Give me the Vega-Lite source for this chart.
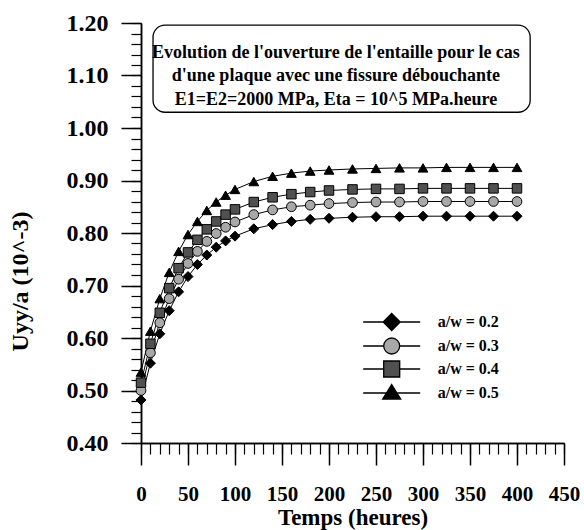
{
  "$schema": "https://vega.github.io/schema/vega-lite/v6.json",
  "width": 423,
  "height": 420,
  "autosize": {"type": "none"},
  "padding": {"left": 141, "top": 23, "right": 20, "bottom": 87},
  "background": "white",
  "config": {
    "font": "Liberation Serif",
    "view": {"stroke": null},
    "style": {"guide-label": {"font": "Liberation Serif", "fontWeight": "bold", "fill": "black"}},
    "legend": {"labelFont": "Liberation Serif", "labelFontSize": 16, "labelFontWeight": "bold", "labelColor": "black", "symbolStrokeWidth": 1.3, "symbolStrokeColor": "black", "rowPadding": 1, "labelOffset": 35, "symbolSize": 400, "padding": 0, "symbolOpacity": 1}
  },
  "data": {"values": [
    {"t": 0, "aw02": 0.482, "aw03": 0.500, "aw04": 0.515, "aw05": 0.535},
    {"t": 10, "aw02": 0.552, "aw03": 0.572, "aw04": 0.589, "aw05": 0.613},
    {"t": 20, "aw02": 0.608, "aw03": 0.629, "aw04": 0.648, "aw05": 0.675},
    {"t": 30, "aw02": 0.652, "aw03": 0.675, "aw04": 0.695, "aw05": 0.725},
    {"t": 40, "aw02": 0.688, "aw03": 0.712, "aw04": 0.733, "aw05": 0.765},
    {"t": 50, "aw02": 0.717, "aw03": 0.742, "aw04": 0.763, "aw05": 0.797},
    {"t": 60, "aw02": 0.740, "aw03": 0.765, "aw04": 0.787, "aw05": 0.822},
    {"t": 70, "aw02": 0.758, "aw03": 0.784, "aw04": 0.807, "aw05": 0.843},
    {"t": 80, "aw02": 0.773, "aw03": 0.799, "aw04": 0.822, "aw05": 0.859},
    {"t": 90, "aw02": 0.785, "aw03": 0.811, "aw04": 0.835, "aw05": 0.872},
    {"t": 100, "aw02": 0.794, "aw03": 0.821, "aw04": 0.845, "aw05": 0.883},
    {"t": 120, "aw02": 0.808, "aw03": 0.835, "aw04": 0.859, "aw05": 0.898},
    {"t": 140, "aw02": 0.816, "aw03": 0.844, "aw04": 0.868, "aw05": 0.908},
    {"t": 160, "aw02": 0.822, "aw03": 0.850, "aw04": 0.874, "aw05": 0.914},
    {"t": 180, "aw02": 0.826, "aw03": 0.853, "aw04": 0.878, "aw05": 0.918},
    {"t": 200, "aw02": 0.828, "aw03": 0.856, "aw04": 0.881, "aw05": 0.920},
    {"t": 225, "aw02": 0.830, "aw03": 0.858, "aw04": 0.883, "aw05": 0.922},
    {"t": 250, "aw02": 0.831, "aw03": 0.859, "aw04": 0.884, "aw05": 0.923},
    {"t": 275, "aw02": 0.831, "aw03": 0.859, "aw04": 0.884, "aw05": 0.924},
    {"t": 300, "aw02": 0.832, "aw03": 0.860, "aw04": 0.885, "aw05": 0.924},
    {"t": 325, "aw02": 0.832, "aw03": 0.860, "aw04": 0.885, "aw05": 0.925},
    {"t": 350, "aw02": 0.832, "aw03": 0.860, "aw04": 0.885, "aw05": 0.925},
    {"t": 375, "aw02": 0.832, "aw03": 0.860, "aw04": 0.885, "aw05": 0.925},
    {"t": 400, "aw02": 0.832, "aw03": 0.860, "aw04": 0.885, "aw05": 0.925}
  ]},
  "resolve": {"axis": {"x": "independent", "y": "independent"}},
  "layer": [
    {
      "data": {"values": [{}]},
      "mark": {"type": "rect", "cornerRadius": 12, "fill": "white", "stroke": "black", "strokeWidth": 1.3},
      "encoding": {
        "x": {"datum": 12.8, "type": "quantitative", "axis": null, "scale": {"domain": [0, 450], "nice": false}},
        "x2": {"datum": 414},
        "y": {"datum": 1.196, "type": "quantitative", "axis": null, "scale": {"domain": [0.4, 1.2], "nice": false, "zero": false}},
        "y2": {"datum": 1.03}
      }
    },
    {
      "data": {"values": [{}]},
      "mark": {"type": "text", "text": ["Evolution de l'ouverture de l'entaille pour le cas", "d'une plaque avec une fissure débouchante", "E1=E2=2000 MPa, Eta = 10^5 MPa.heure"], "font": "Liberation Serif", "fontSize": 18, "fontWeight": "bold", "lineHeight": 23.5, "align": "center", "baseline": "middle", "color": "black"},
      "encoding": {
        "x": {"datum": 207.4, "type": "quantitative", "axis": null, "scale": {"domain": [0, 450], "nice": false}},
        "y": {"datum": 1.143, "type": "quantitative", "axis": null, "scale": {"domain": [0.4, 1.2], "nice": false, "zero": false}}
      }
    },
    {
      "transform": [{"fold": ["aw02", "aw03", "aw04", "aw05"], "as": ["serie", "v"]}],
      "mark": {"type": "line", "color": "black", "strokeWidth": 1},
      "encoding": {
        "x": {"field": "t", "type": "quantitative", "scale": {"domain": [0, 450], "nice": false},
          "axis": {"orient": "bottom", "values": [0,10,20,30,40,50,60,70,80,90,100,110,120,130,140,150,160,170,180,190,200,210,220,230,240,250,260,270,280,290,300,310,320,330,340,350,360,370,380,390,400,410,420,430,440,450], "tickSize": 11, "tickWidth": 1.2, "tickColor": "black", "labels": false, "title": null, "grid": false, "domainColor": "black", "domainWidth": 1.5}},
        "y": {"field": "v", "type": "quantitative", "scale": {"domain": [0.4, 1.2], "nice": false, "zero": false},
          "axis": {"orient": "left", "values": [0.4,0.42,0.44,0.46,0.48,0.5,0.52,0.54,0.56,0.58,0.6,0.62,0.64,0.66,0.68,0.7,0.72,0.74,0.76,0.78,0.8,0.82,0.84,0.86,0.88,0.9,0.92,0.94,0.96,0.98,1,1.02,1.04,1.06,1.08,1.1,1.12,1.14,1.16,1.18,1.2], "tickSize": 10, "tickWidth": 1.2, "tickColor": "black", "labels": false, "title": null, "grid": false, "domainColor": "black", "domainWidth": 1.5}},
        "detail": {"field": "serie"}
      }
    },
    {
      "transform": [{"fold": ["aw02"], "as": ["serie", "v"]}],
      "mark": {"type": "point", "shape": "diamond", "filled": true, "fill": "black", "size": 100, "stroke": "black", "strokeWidth": 1, "opacity": 1},
      "encoding": {
        "x": {"field": "t", "type": "quantitative", "scale": {"domain": [0, 450], "nice": false},
          "axis": {"orient": "bottom", "values": [0,50,100,150,200,250,300,350,400,450], "format": "d", "tickSize": 22, "tickWidth": 1.5, "tickColor": "black", "grid": false, "domainColor": "black", "domainWidth": 1.5, "labelFont": "Liberation Serif", "labelFontSize": 21, "labelFontWeight": "bold", "labelColor": "black", "labelPadding": 35, "labelBaseline": "alphabetic", "labelFlush": false, "labelOverlap": false, "title": "Temps (heures)", "titleFont": "Liberation Serif", "titleFontSize": 23, "titleFontWeight": "bold", "titleColor": "black", "titleY": 81, "titleBaseline": "alphabetic"}},
        "y": {"field": "v", "type": "quantitative", "scale": {"domain": [0.4, 1.2], "nice": false, "zero": false},
          "axis": {"orient": "left", "values": [0.4,0.5,0.6,0.7,0.8,0.9,1,1.1,1.2], "format": ".2f", "tickSize": 20, "tickWidth": 1.5, "tickColor": "black", "grid": false, "domainColor": "black", "domainWidth": 1.5, "labelFont": "Liberation Serif", "labelFontSize": 24, "labelFontWeight": "bold", "labelColor": "black", "labelPadding": 13, "labelFlush": false, "labelOverlap": false, "title": "Uyy/a (10^-3)", "titleFont": "Liberation Serif", "titleFontSize": 24, "titleFontWeight": "bold", "titleColor": "black", "titleX": -114, "titleY": 258, "titleBaseline": "alphabetic", "titleAngle": -90}}
      }
    },
    {
      "transform": [{"fold": ["aw03"], "as": ["serie", "v"]}],
      "mark": {"type": "point", "shape": "circle", "filled": true, "fill": "#a8a8a8", "size": 95, "stroke": "black", "strokeWidth": 1, "opacity": 1},
      "encoding": {
        "x": {"field": "t", "type": "quantitative", "scale": {"domain": [0, 450], "nice": false}, "axis": null},
        "y": {"field": "v", "type": "quantitative", "scale": {"domain": [0.4, 1.2], "nice": false, "zero": false}, "axis": null}
      }
    },
    {
      "transform": [{"fold": ["aw04"], "as": ["serie", "v"]}],
      "mark": {"type": "point", "shape": "square", "filled": true, "fill": "#505050", "size": 90, "stroke": "black", "strokeWidth": 1, "opacity": 1},
      "encoding": {
        "x": {"field": "t", "type": "quantitative", "scale": {"domain": [0, 450], "nice": false}, "axis": null},
        "y": {"field": "v", "type": "quantitative", "scale": {"domain": [0.4, 1.2], "nice": false, "zero": false}, "axis": null}
      }
    },
    {
      "transform": [{"fold": ["aw05"], "as": ["serie", "v"]}],
      "mark": {"type": "point", "shape": "triangle-up", "filled": true, "fill": "black", "size": 95, "stroke": "black", "strokeWidth": 1, "opacity": 1},
      "encoding": {
        "x": {"field": "t", "type": "quantitative", "scale": {"domain": [0, 450], "nice": false}, "axis": null},
        "y": {"field": "v", "type": "quantitative", "scale": {"domain": [0.4, 1.2], "nice": false, "zero": false}, "axis": null}
      }
    },
    {
      "transform": [{"fold": ["aw02", "aw03", "aw04", "aw05"], "as": ["serie", "v"]}, {"filter": "false"}],
      "mark": {"type": "point", "filled": true, "size": 400, "strokeWidth": 1.3, "opacity": 1},
      "encoding": {
        "shape": {"field": "serie", "type": "nominal",
          "scale": {"domain": ["aw02", "aw03", "aw04", "aw05"], "range": ["M-2.85,0H2.85M0,-0.85L0.85,0L0,0.85L-0.85,0Z", "M-2.85,0H-0.8M0.8,0H2.85M-0.8,0A0.8,0.8 0 1,0 0.8,0A0.8,0.8 0 1,0 -0.8,0Z", "M-2.85,0H-0.8M0.8,0H2.85M-0.8,-0.8H0.8V0.8H-0.8Z", "M-2.85,0H2.85M0,-0.85L0.9,0.6L-0.9,0.6Z"]},
          "legend": {"orient": "none", "legendX": 239.7, "legendY": 288, "title": null, "labelExpr": "'a/w = 0.' + slice(datum.label, 3)"}},
        "fill": {"field": "serie", "type": "nominal",
          "scale": {"domain": ["aw02", "aw03", "aw04", "aw05"], "range": ["black", "#a8a8a8", "#505050", "black"]},
          "legend": {"orient": "none", "legendX": 239.7, "legendY": 288, "title": null, "labelExpr": "'a/w = 0.' + slice(datum.label, 3)"}},
        "stroke": {"field": "serie", "type": "nominal",
          "scale": {"domain": ["aw02", "aw03", "aw04", "aw05"], "range": ["black", "black", "black", "black"]},
          "legend": {"orient": "none", "legendX": 239.7, "legendY": 288, "title": null, "labelExpr": "'a/w = 0.' + slice(datum.label, 3)"}}
      }
    }
  ]
}
